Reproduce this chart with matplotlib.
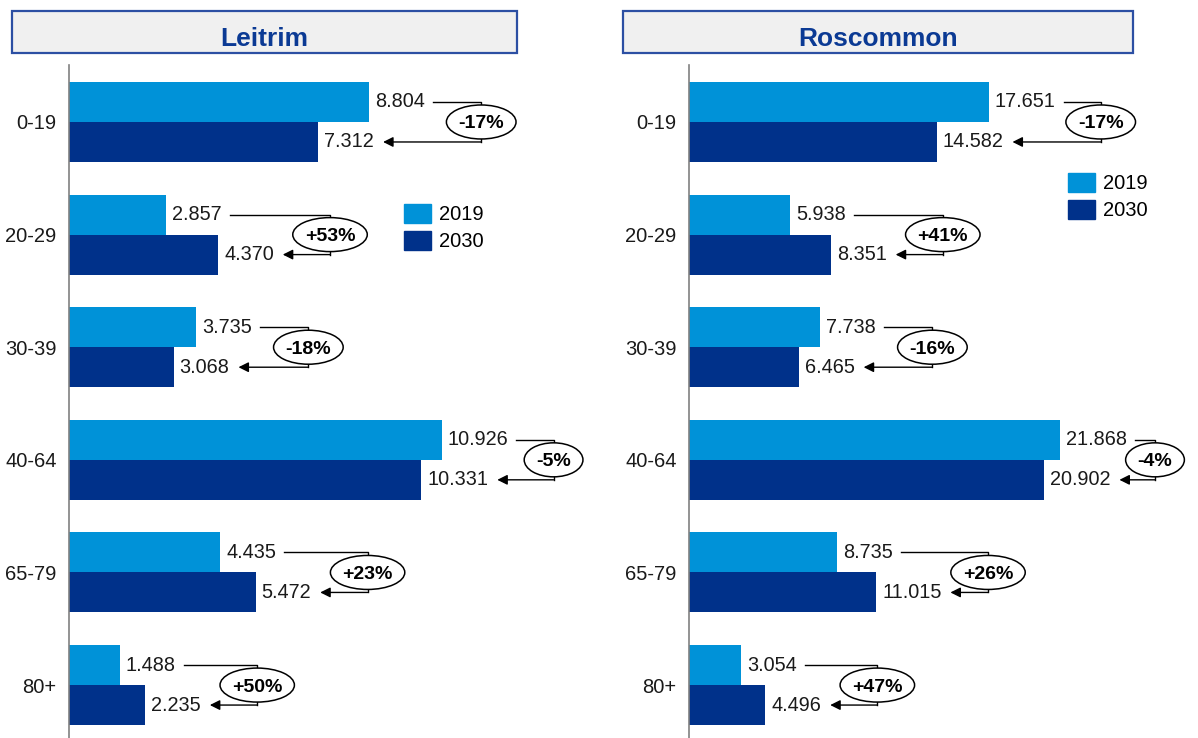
import matplotlib
matplotlib.use("Agg")
import matplotlib.pyplot as plt
from matplotlib.patches import Rectangle, Patch, Ellipse
from matplotlib.transforms import IdentityTransform

plt.rcParams['font.family'] = ['Liberation Sans', 'DejaVu Sans']

# Population by age group (persons), 2019 vs. projected 2030
age_groups = ["0-19", "20-29", "30-39", "40-64", "65-79", "80+"]
years = ["2019", "2030"]
counties = ["Leitrim", "Roscommon"]
leitrim_2019 = [8804, 2857, 3735, 10926, 4435, 1488]
leitrim_2030 = [7312, 4370, 3068, 10331, 5472, 2235]
roscommon_2019 = [17651, 5938, 7738, 21868, 8735, 3054]
roscommon_2030 = [14582, 8351, 6465, 20902, 11015, 4496]

COL_2019 = "#0092d8"
COL_2030 = "#00318a"
TITLE_COL = "#0b3a94"
FIG_W, FIG_H = 1198, 738

fig = plt.figure(figsize=(FIG_W / 100, FIG_H / 100), dpi=100)


def fmt(v):
    return f"{v:,}".replace(",", ".")


def px_to_data_x(ax, px):
    return ax.transData.inverted().transform((px, 0))[0]


# layout of each panel in pixels: axis line x, title box span, pixels per 1000 persons, legend corner
panels = [
    dict(name=counties[0], a=leitrim_2019, b=leitrim_2030, axis_x=69, width=520,
         box=(12, 517), px_per_k=34.1, legend=(404, 204)),
    dict(name=counties[1], a=roscommon_2019, b=roscommon_2030, axis_x=689, width=505,
         box=(623, 1133), px_per_k=16.98, legend=(1068, 173)),
]

top_px = 65
h = 0.355
axes_info = []
for p in panels:
    ax = fig.add_axes([p["axis_x"] / FIG_W, 0, p["width"] / FIG_W, (FIG_H - top_px) / FIG_H])
    ax.set_xlim(0, p["width"] / (p["px_per_k"] / 1000))
    ax.set_ylim(5.47, -0.506)
    ys = list(range(len(age_groups)))
    ax.barh([y - h / 2 for y in ys], p["a"], height=h, color=COL_2019, label=years[0])
    ax.barh([y + h / 2 for y in ys], p["b"], height=h, color=COL_2030, label=years[1])
    for s in ["top", "right", "bottom"]:
        ax.spines[s].set_visible(False)
    ax.spines["left"].set_color("#808080")
    ax.spines["left"].set_linewidth(1.2)
    ax.set_xticks([])
    ax.set_yticks(ys, age_groups)
    ax.tick_params(axis="y", length=0, pad=9, labelsize=14.5, labelcolor="#1a1a1a")

    # title box
    x0, x1 = p["box"]
    fig.add_artist(Rectangle((x0 / FIG_W, 1 - 53 / FIG_H), (x1 - x0) / FIG_W, 42 / FIG_H,
                             transform=fig.transFigure, fc="#f0f0f0", ec="#2c4fa3", lw=1.6))
    fig.text((x0 + x1) / 2 / FIG_W, 1 - 46 / FIG_H, p["name"], ha="center", va="baseline",
             fontsize=19, fontweight="bold", color=TITLE_COL)

    # legend
    fs = 14.5
    fs_px = fs * 100 / 72
    lx, ly = p["legend"]
    ax.legend(handles=[Patch(color=COL_2019, label=years[0]), Patch(color=COL_2030, label=years[1])],
              loc="upper left", bbox_to_anchor=(lx / FIG_W, 1 - ly / FIG_H),
              bbox_transform=fig.transFigure, frameon=False, borderpad=0, borderaxespad=0,
              handlelength=27 / fs_px, handleheight=21 / fs_px, handletextpad=8 / fs_px,
              labelspacing=0.35, fontsize=fs)

    labels = []
    for i, (va_, vb_) in enumerate(zip(p["a"], p["b"])):
        ta = ax.annotate(fmt(va_), xy=(va_, i - h / 2), xytext=(6, 0), textcoords="offset pixels",
                         ha="left", va="center", fontsize=14.3, color="#1a1a1a")
        tb = ax.annotate(fmt(vb_), xy=(vb_, i + h / 2), xytext=(6, 0), textcoords="offset pixels",
                         ha="left", va="center", fontsize=14.3, color="#1a1a1a")
        labels.append((ta, tb))
    axes_info.append((ax, p, labels))

fig.canvas.draw()
renderer = fig.canvas.get_renderer()

for ax, p, labels in axes_info:
    for i, ((ta, tb), va_, vb_) in enumerate(zip(labels, p["a"], p["b"])):
        ya, yb = i - h / 2, i + h / 2
        end_a = ta.get_window_extent(renderer).x1
        end_b = tb.get_window_extent(renderer).x1
        bar_end = ax.transData.transform((max(va_, vb_), 0))[0]
        bx_px = min(bar_end + 112, FIG_W - 43)
        bx = px_to_data_x(ax, bx_px)
        xa = px_to_data_x(ax, end_a + 8)
        xb = px_to_data_x(ax, end_b + 9)
        ax.plot([xa, bx, bx], [ya, ya, yb], color="black", lw=1, clip_on=False, zorder=3)
        ax.annotate("", xy=(xb, yb), xytext=(bx, yb),
                    arrowprops=dict(arrowstyle="-|>", color="black", lw=1,
                                    shrinkA=0, shrinkB=0, mutation_scale=15),
                    annotation_clip=False, zorder=3)
        pct = (vb_ - va_) / va_ * 100
        cy = ax.transData.transform((0, i))[1]
        t = fig.text(bx_px / FIG_W, cy / FIG_H, f"{pct:+.0f}%", ha="center", va="center_baseline",
                     fontsize=14, fontweight="bold", color="black", zorder=6)
        tw = t.get_window_extent(renderer).width
        fig.add_artist(Ellipse((bx_px, cy), tw + 24, 34, transform=IdentityTransform(),
                               fc="white", ec="black", lw=1.1, zorder=5))

fig.savefig("out.png", dpi=100)
